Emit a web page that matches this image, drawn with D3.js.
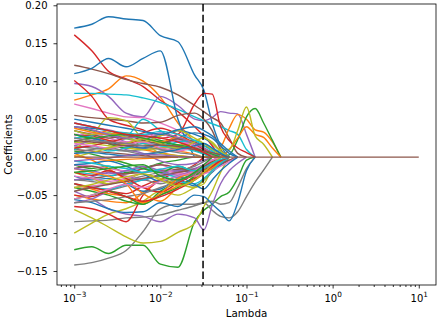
<!DOCTYPE html>
<html>
<head>
<meta charset="utf-8">
<script src="https://cdn.jsdelivr.net/npm/d3@7"></script>
<style>
  html, body { margin: 0; padding: 0; background: #fff; }
  svg { display: block; font-family: "DejaVu Sans", sans-serif; }
</style>
</head>
<body>
<div id="chart"></div>
<script>
/**
 * CONSTANTS AND GLOBALS
 * */
const width = 439,
  height = 319,
  margin = { top: 4, bottom: 34, left: 57, right: 3 };

// lambda grid shared by every coefficient path
const lambdas = [0.001, 0.0016, 0.0025, 0.004, 0.0063, 0.01, 0.016, 0.025, 0.032, 0.04,
  0.05, 0.063, 0.079, 0.1, 0.126, 0.158, 0.2, 0.25, 10];

// chosen lambda (dashed line)
const bestLambda = 0.0313;

const yTicks = [-0.15, -0.10, -0.05, 0.00, 0.05, 0.10, 0.15, 0.20];
const xTicks = [0.001, 0.01, 0.1, 1, 10];
const xTickExps = ["\u22123", "\u22122", "\u22121", "0", "1"];

// coefficient paths, one array per feature.
// a path stops once it reaches zero (the last one stays at zero throughout)
const group0 = [
  [0.170, 0.175, 0.185, 0.182, 0.180, 0.160, 0.152, 0.108, 0.088, 0.045, 0.015, 0],
  [0.075, 0.082, 0.090, 0.107, 0.100, 0.079, 0.045, 0.020, 0.008, 0],
  [-0.122, -0.118, -0.127, -0.116, -0.116, -0.141, -0.145, -0.085, -0.070, -0.062, -0.052, -0.046, -0.028, -0.004, 0],
  [0.161, 0.140, 0.113, 0.103, 0.093, 0.075, 0.060, 0.040, 0.028, 0.015, 0],
  [0.097, 0.093, 0.080, 0.058, 0.053, 0.080, 0.068, 0.050, 0.048, 0.052, 0.060, 0.058, 0.057, 0.030, 0],
  [0.121, 0.116, 0.110, 0.102, 0.097, 0.092, 0.082, 0.068, 0.060, 0.052, 0.045, 0.025, 0.005, 0],
  [0.070, 0.064, 0.058, 0.053, 0.052, 0.045, 0.035, 0.020, 0.010, 0],
  [-0.142, -0.139, -0.133, -0.123, -0.098, -0.068, -0.062, -0.062, -0.060, -0.070, -0.078, -0.080, -0.072, -0.052, -0.033, -0.017, 0],
  [-0.069, -0.080, -0.092, -0.105, -0.113, -0.111, -0.099, -0.087, -0.065, -0.045, -0.020, 0],
  [0.084, 0.084, 0.083, 0.082, 0.078, 0.072, 0.063, 0.053, 0.048, 0.044, 0.040, 0.035, 0.030, 0.010, 0]
];
const group1 = [
  [0.110, 0.117, 0.130, 0.119, 0.130, 0.140, 0.050, 0],
  [0.030, 0.028, 0.035, 0.025, 0.018, 0.012, 0.008, 0.004, 0, 0, 0.012, 0.038, 0.056, 0.050, 0.036, 0.033, 0.020, 0],
  [-0.010, -0.015, -0.012, -0.020, -0.015, -0.008, -0.004, 0, 0, 0, 0, 0.003, 0.023, 0.053, 0.064, 0.045, 0.022, 0],
  [0.101, 0.080, 0.050, 0.042, 0.036, 0.025, 0.030, 0.070, 0.084, 0.083, 0.040, 0.022, 0.012, 0.006, 0],
  [-0.045, -0.055, -0.068, -0.075, -0.078, -0.085, -0.075, -0.080, -0.096, -0.063, -0.035, -0.018, -0.008, 0],
  [0.055, 0.052, 0.050, 0.048, 0.045, 0.046, 0.055, 0.058, 0.050, 0.035, 0.010, 0],
  [0.045, 0.040, 0.036, 0.030, 0.025, 0.022, 0.015, 0.010, 0.005, 0],
  [-0.085, -0.084, -0.083, -0.080, -0.079, -0.076, -0.070, -0.064, -0.060, -0.058, -0.062, -0.060, -0.040, -0.015, 0],
  [-0.100, -0.087, -0.075, -0.068, -0.058, -0.045, -0.050, -0.040, -0.035, -0.015, 0],
  [0.035, 0.030, 0.032, 0.028, 0.050, 0.035, 0.022, 0.015, 0.010, 0.005, 0]
];
const group2 = [
  [-0.056, -0.060, -0.068, -0.073, -0.072, -0.060, -0.065, -0.050, -0.052, -0.062, -0.072, -0.084, -0.060, -0.018, 0],
  [0.020, 0.025, 0.022, 0.015, 0.010, 0.006, 0.002, 0, 0, 0, 0, 0.010, 0.025, 0.040, 0.030, 0.026, 0.012, 0],
  [0.040, 0.035, 0.030, 0.024, 0.028, 0.022, 0.016, 0.010, 0.004, 0],
  [-0.065, -0.068, -0.075, -0.085, -0.050, -0.030, -0.020, -0.010, 0],
  [0.025, 0.022, 0.018, 0.010, 0.005, -0.005, -0.010, -0.008, -0.004, 0],
  [-0.030, -0.028, -0.025, -0.022, -0.020, -0.018, -0.016, -0.016, -0.015, -0.014, -0.010, -0.004, 0],
  [-0.040, -0.038, -0.035, -0.030, -0.028, -0.025, -0.022, -0.020, -0.015, -0.010, -0.005, 0],
  [0.015, 0.012, 0.010, 0.008, 0.010, 0.012, 0.015, 0.012, 0.008, 0.004, 0],
  [0.010, 0.028, 0.052, 0.048, 0.022, 0.005, 0.002, 0],
  [-0.020, -0.022, -0.025, -0.018, -0.015, -0.020, -0.026, -0.018, -0.010, -0.004, 0]
];
const group3 = [
  [0.040, 0.038, 0.035, 0.030, 0.025, 0.028, 0.035, 0.030, 0.025, 0.018, 0.008, 0],
  [-0.050, -0.055, -0.058, -0.060, -0.047, -0.030, -0.036, -0.026, -0.016, -0.008, 0],
  [-0.040, -0.045, -0.050, -0.058, -0.062, -0.045, -0.032, -0.020, -0.012, -0.005, 0],
  [0.030, 0.028, 0.022, 0.018, 0.024, 0.030, 0.024, 0.015, 0.008, 0.003, 0],
  [-0.060, -0.055, -0.045, -0.035, -0.030, -0.025, -0.020, -0.015, -0.010, -0.005, 0],
  [0.010, 0.008, 0.006, 0.004, 0.002, 0.001, 0],
  [-0.010, -0.012, -0.015, -0.018, -0.015, -0.010, -0.020, -0.022, -0.018, -0.012, -0.006, 0],
  [-0.030, -0.032, -0.035, -0.030, -0.025, -0.020, -0.018, -0.012, -0.006, 0],
  [0.020, 0.018, 0.015, 0.012, 0.010, 0.012, 0.015, 0.022, 0.025, 0.020, 0.010, 0.010, 0.035, 0.066, 0.028, 0.017, 0],
  [0.025, 0.028, 0.030, 0.025, 0.020, 0.015, 0.012, 0.008, 0.004, 0]
];
const group4 = [
  [-0.025, -0.030, -0.028, -0.035, -0.045, -0.042, -0.030, -0.038, -0.030, -0.020, -0.010, 0],
  [0.005, -0.004, -0.015, -0.030, -0.048, -0.058, -0.040, -0.030, -0.018, -0.008, 0],
  [0.020, 0.025, 0.018, 0.012, 0.022, 0.030, 0.025, 0.018, 0.012, 0.006, 0],
  [-0.050, -0.052, -0.045, -0.048, -0.038, -0.030, -0.035, -0.028, -0.020, -0.012, -0.005, 0],
  [0.015, 0.022, 0.028, 0.020, 0.012, 0.018, 0.022, 0.015, 0.010, 0.004, 0],
  [-0.015, -0.012, -0.018, -0.022, -0.015, -0.010, -0.014, -0.018, -0.016, -0.012, -0.008, -0.004, 0],
  [0.028, 0.032, 0.025, 0.020, 0.025, 0.030, 0.022, 0.015, 0.010, 0.005, 0],
  [-0.045, -0.040, -0.043, -0.038, -0.030, -0.035, -0.028, -0.025, -0.020, -0.015, -0.008, 0],
  [-0.020, -0.028, -0.035, -0.030, -0.022, -0.028, -0.035, -0.040, -0.030, -0.018, -0.006, 0],
  [0.010, 0.015, 0.008, 0.012, 0.018, 0.015, 0.020, 0.022, 0.018, 0.012, 0.006, 0]
];
const group5 = [
  [0.030, 0.025, 0.020, 0.015, 0.012, 0.018, 0.025, 0.032, 0.030, 0.025, 0.015, 0.005, 0],
  [-0.035, -0.042, -0.048, -0.052, -0.060, -0.050, -0.038, -0.030, -0.022, -0.014, -0.006, 0],
  [-0.055, -0.050, -0.045, -0.052, -0.062, -0.050, -0.040, -0.025, -0.015, -0.008, 0],
  [0.012, 0.015, 0.020, 0.025, 0.032, 0.038, 0.030, 0.018, 0.010, 0.004, 0],
  [-0.030, -0.026, -0.020, -0.025, -0.030, -0.022, -0.018, -0.020, -0.015, -0.010, -0.004, 0],
  [0.035, 0.030, 0.025, 0.028, 0.022, 0.018, 0.024, 0.020, 0.015, 0.010, 0.004, 0],
  [-0.025, -0.028, -0.032, -0.028, -0.020, -0.016, -0.022, -0.025, -0.022, -0.018, -0.012, -0.006, 0],
  [0.005, 0.010, 0.012, 0.008, 0.004, 0.008, 0.012, 0.010, 0.006, 0.003, 0],
  [0.035, 0.030, 0.032, 0.026, 0.020, 0.028, 0.035, 0.025, 0.018, 0.010, 0.004, 0],
  [-0.035, -0.040, -0.042, -0.036, -0.030, -0.025, -0.032, -0.035, -0.028, -0.018, -0.008, 0]
];
const group6 = [
  [-0.010, -0.008, -0.005, -0.012, -0.022, -0.032, -0.026, -0.036, -0.042, -0.030, -0.018, -0.008, 0],
  [0.038, 0.033, 0.030, 0.032, 0.025, 0.020, 0.026, 0.018, 0.012, 0.006, 0],
  [0.008, 0.004, -0.002, -0.008, -0.015, -0.020, -0.012, -0.018, -0.012, -0.006, 0],
  [-0.020, -0.024, -0.018, -0.028, -0.040, -0.046, -0.034, -0.022, -0.012, -0.005, 0],
  [0.040, 0.036, 0.030, 0.025, 0.028, 0.032, 0.026, 0.018, 0.012, 0.006, 0],
  [-0.045, -0.040, -0.036, -0.032, -0.028, -0.024, -0.020, -0.016, -0.012, -0.008, -0.004, 0],
  [0.018, 0.015, 0.012, 0.016, 0.020, 0.012, 0.008, 0.012, 0.008, 0.004, 0],
  [-0.060, -0.058, -0.056, -0.052, -0.048, -0.040, -0.032, -0.022, -0.015, -0.008, 0],
  [0.000, 0.006, 0.012, 0.018, 0.024, 0.018, 0.012, 0.020, 0.026, 0.018, 0.008, 0],
  [0.045, 0.040, 0.035, 0.032, 0.030, 0.034, 0.030, 0.022, 0.015, 0.008, 0]
];
const group7 = [
  [0.050, 0.046, 0.042, 0.038, 0.034, 0.030, 0.036, 0.040, 0.035, 0.028, 0.018, 0.008, 0],
  [-0.015, -0.020, -0.025, -0.035, -0.060, -0.048, -0.028, -0.018, -0.010, -0.004, 0],
  [0.030, 0.025, 0.028, 0.030, 0.025, 0.020, 0.016, 0.012, 0.008, 0.004, 0],
  [-0.035, -0.040, -0.045, -0.052, -0.058, -0.052, -0.042, -0.030, -0.020, -0.012, -0.005, 0],
  [-0.015, -0.018, -0.022, -0.018, -0.012, -0.018, -0.024, -0.016, -0.010, -0.004, 0],
  [0.022, 0.020, 0.018, 0.015, 0.015, 0.016, 0.014, 0.010, 0.008, 0.006, 0.003, 0],
  [-0.055, -0.050, -0.042, -0.036, -0.040, -0.032, -0.025, -0.018, -0.010, -0.004, 0],
  [0.025, 0.022, 0.020, 0.018, 0.015, 0.010, 0.006, 0.003, 0],
  [-0.040, -0.036, -0.030, -0.026, -0.022, -0.030, -0.038, -0.030, -0.020, -0.010, 0],
  [-0.005, -0.008, -0.012, -0.015, -0.020, -0.016, -0.012, -0.018, -0.014, -0.008, -0.003, 0]
];
const group8 = [
  [0.005, 0.006, 0.004, 0.002, 0.004, 0.006, 0.010, 0.015, 0.018, 0.012, 0.005, 0],
  [0.002, -0.002, -0.004, -0.003, -0.002, -0.001, 0],
  [-0.020, -0.018, -0.015, -0.012, -0.010, -0.025, -0.030, -0.020, -0.010, 0],
  [0.045, 0.040, 0.035, 0.030, 0.028, 0.025, 0.020, 0.012, 0.006, 0],
  [-0.005, -0.003, -0.001, 0.002, 0.004, 0.003, 0.001, 0],
  [0, 0, 0, 0, 0, 0, 0, 0, 0, 0, 0, 0, 0, 0, 0, 0, 0, 0, 0]
];

const coefPaths = [...group0, ...group1, ...group2, ...group3, ...group4,
  ...group5, ...group6, ...group7, ...group8];

/**
 * SCALES
 * */
const x = d3.scaleLog()
  .domain([Math.pow(10, -3.2), Math.pow(10, 1.2)])
  .range([margin.left, width - margin.right]);

const y = d3.scaleLinear()
  .domain([-0.1684, 0.2017])
  .range([height - margin.bottom, margin.top]);

const colorScale = d3.scaleOrdinal(d3.schemeCategory10);

/**
 * DRAW
 * */
const svg = d3.select("#chart")
  .append("svg")
  .attr("width", width)
  .attr("height", height);

const line = d3.line()
  .x((d, i) => x(lambdas[i]))
  .y(d => y(d))
  .curve(d3.curveMonotoneX);

svg.append("g")
  .selectAll("path")
  .data(coefPaths)
  .join("path")
  .attr("fill", "none")
  .attr("stroke", (d, i) => colorScale(i))
  .attr("stroke-width", 1.4)
  .attr("stroke-linejoin", "round")
  .attr("d", line);

// dashed line at the chosen lambda
svg.append("line")
  .attr("x1", x(bestLambda))
  .attr("x2", x(bestLambda))
  .attr("y1", margin.top)
  .attr("y2", height - margin.bottom)
  .attr("stroke", "black")
  .attr("stroke-width", 1.5)
  .attr("stroke-dasharray", "7.5,3.2");

// + AXES
svg.append("g")
  .attr("transform", `translate(${margin.left},0)`)
  .call(d3.axisLeft(y)
    .tickValues(yTicks)
    .tickFormat(d3.format(".2f"))
    .tickSize(3.5)
    .tickPadding(6)
    .tickSizeOuter(0));

// minor ticks on the log axis
const minorTicks = x.ticks().filter(t => xTicks.indexOf(t) < 0);

svg.append("g")
  .attr("transform", `translate(0,${height - margin.bottom})`)
  .call(d3.axisBottom(x)
    .tickValues(minorTicks)
    .tickFormat("")
    .tickSize(2)
    .tickSizeOuter(0));

const xAxis = svg.append("g")
  .attr("transform", `translate(0,${height - margin.bottom})`)
  .call(d3.axisBottom(x)
    .tickValues(xTicks)
    .tickFormat("")
    .tickSize(3.5)
    .tickSizeOuter(0));

xAxis.selectAll(".tick text")
  .attr("y", 16.5)
  .attr("dy", null)
  .each(function(d, i) {
    const t = d3.select(this);
    t.append("tspan").text("10");
    t.append("tspan")
      .attr("dy", -4.2)
      .attr("font-size", 7.3)
      .text(xTickExps[i]);
  });

svg.selectAll(".tick text")
  .attr("font-family", "DejaVu Sans")
  .attr("font-size", 10)
  .attr("fill", "black");
svg.selectAll(".tick line").attr("stroke", "black").attr("stroke-width", 0.8);
svg.selectAll(".domain").remove();

// frame
svg.append("rect")
  .attr("x", margin.left)
  .attr("y", margin.top)
  .attr("width", width - margin.left - margin.right)
  .attr("height", height - margin.top - margin.bottom)
  .attr("fill", "none")
  .attr("stroke", "black")
  .attr("stroke-width", 0.8);

// + LABELS
svg.append("text")
  .attr("x", (margin.left + width - margin.right) / 2)
  .attr("y", 316.5)
  .attr("text-anchor", "middle")
  .attr("font-size", 10.3)
  .text("Lambda");

svg.append("text")
  .attr("transform", `translate(11.5,${(margin.top + height - margin.bottom) / 2}) rotate(-90)`)
  .attr("text-anchor", "middle")
  .attr("font-size", 10.3)
  .text("Coefficients");
</script>
</body>
</html>
